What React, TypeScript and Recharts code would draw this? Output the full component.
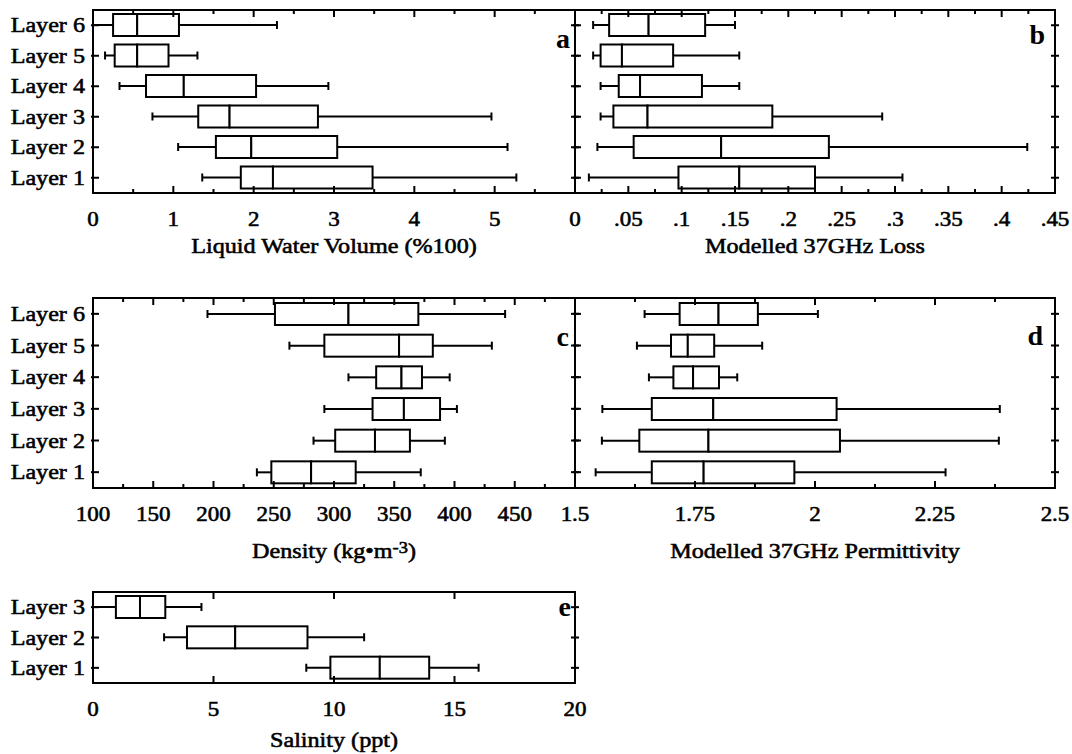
import React from 'react';
import { ComposedChart, Bar, XAxis, YAxis } from 'recharts';

const FONT = '"Liberation Serif", "Times New Roman", Times, serif';
const SX = 1.15;

// Categories, top to bottom
const layers6 = ['Layer 6', 'Layer 5', 'Layer 4', 'Layer 3', 'Layer 2', 'Layer 1'];
const layers3 = ['Layer 3', 'Layer 2', 'Layer 1'];

// (a) Liquid Water Volume (%100)
const lwvMin = [0.0, 0.15, 0.33, 0.74, 1.06, 1.36];
const lwvQ1 = [0.25, 0.27, 0.66, 1.31, 1.53, 1.84];
const lwvMed = [0.55, 0.55, 1.13, 1.7, 1.97, 2.24];
const lwvQ3 = [1.07, 0.94, 2.03, 2.8, 3.04, 3.48];
const lwvMax = [2.29, 1.3, 2.93, 4.96, 5.16, 5.27];

// (b) Modelled 37GHz Loss
const lossMin = [0.017, 0.017, 0.024, 0.024, 0.021, 0.013];
const lossQ1 = [0.032, 0.024, 0.041, 0.036, 0.055, 0.097];
const lossMed = [0.069, 0.044, 0.061, 0.068, 0.137, 0.154];
const lossQ3 = [0.122, 0.092, 0.119, 0.185, 0.238, 0.225];
const lossMax = [0.15, 0.154, 0.154, 0.288, 0.424, 0.307];

// (c) Density
const denMin = [195, 263, 312, 292, 283, 236];
const denQ1 = [251, 292, 335, 332, 301, 248];
const denMed = [312, 354, 356, 358, 334, 281];
const denQ3 = [370, 382, 373, 388, 363, 318];
const denMax = [442, 431, 396, 402, 392, 372];

// (d) Modelled 37GHz Permittivity
const perMin = [1.645, 1.629, 1.654, 1.557, 1.556, 1.543];
const perQ1 = [1.718, 1.7, 1.705, 1.66, 1.634, 1.66];
const perMed = [1.799, 1.735, 1.746, 1.788, 1.778, 1.768];
const perQ3 = [1.881, 1.79, 1.8, 2.045, 2.052, 1.957];
const perMax = [2.006, 1.89, 1.838, 2.385, 2.383, 2.272];

// (e) Salinity
const salMin = [0.0, 2.95, 8.85];
const salQ1 = [0.95, 3.9, 9.85];
const salMed = [1.95, 5.9, 11.9];
const salQ3 = [3.0, 8.9, 13.95];
const salMax = [4.5, 11.25, 16.0];

// Ticks and tick labels ('' = minor tick)
const lwvTicks = [0, 0.5, 1, 1.5, 2, 2.5, 3, 3.5, 4, 4.5, 5, 5.5, 6];
const lwvLabels = ['0', '', '1', '', '2', '', '3', '', '4', '', '5', '', ''];
const lossTicks = [0, 0.025, 0.05, 0.075, 0.1, 0.125, 0.15, 0.175, 0.2, 0.225, 0.25, 0.275, 0.3, 0.325, 0.35, 0.375, 0.4, 0.425, 0.45];
const lossLabels = ['0', '', '.05', '', '.1', '', '.15', '', '.2', '', '.25', '', '.3', '', '.35', '', '.4', '', '.45'];
const denTicks = [100, 125, 150, 175, 200, 225, 250, 275, 300, 325, 350, 375, 400, 425, 450, 475, 500];
const denLabels = ['100', '', '150', '', '200', '', '250', '', '300', '', '350', '', '400', '', '450', '', ''];
const perTicks = [1.5, 1.625, 1.75, 1.875, 2, 2.125, 2.25, 2.375, 2.5];
const perLabels = ['1.5', '', '1.75', '', '2', '', '2.25', '', '2.5'];
const salTicks = [0, 5, 10, 15, 20];
const salLabels = ['0', '5', '10', '15', '20'];

function buildRows(cats: string[], mn: number[], q1: number[], md: number[], q3: number[], mx: number[]) {
  return cats.map((layer, i) => ({
    layer,
    base: mn[i],
    w1: q1[i] - mn[i],
    b1: md[i] - q1[i],
    b2: q3[i] - md[i],
    w2: mx[i] - q3[i],
  }));
}

const lwvRows = buildRows(layers6, lwvMin, lwvQ1, lwvMed, lwvQ3, lwvMax);
const lossRows = buildRows(layers6, lossMin, lossQ1, lossMed, lossQ3, lossMax);
const denRows = buildRows(layers6, denMin, denQ1, denMed, denQ3, denMax);
const perRows = buildRows(layers6, perMin, perQ1, perMed, perQ3, perMax);
const salRows = buildRows(layers3, salMin, salQ1, salMed, salQ3, salMax);

function SText(props: any) {
  const { x, y, anchor = 'middle', size = 20, weight = 'normal', children } = props;
  return (
    <text
      transform={`translate(${x},${y}) scale(${SX},1)`}
      textAnchor={anchor}
      fontFamily={FONT}
      fontSize={size}
      fontWeight={weight}
      fill="#000"
      stroke="#000"
      strokeWidth={0.55}
    >
      {children}
    </text>
  );
}

const LW = 2;

const Empty = () => <g />;
const WhiskerLow = (p: any) => {
  const { x, y, width, height } = p;
  const cy = y + height / 2;
  return (
    <g>
      <line x1={x} y1={cy} x2={x + width} y2={cy} stroke="#000" strokeWidth={LW} />
      <line x1={x} y1={cy - 4} x2={x} y2={cy + 4} stroke="#000" strokeWidth={LW} />
    </g>
  );
};
const WhiskerHigh = (p: any) => {
  const { x, y, width, height } = p;
  const cy = y + height / 2;
  return (
    <g>
      <line x1={x} y1={cy} x2={x + width} y2={cy} stroke="#000" strokeWidth={LW} />
      <line x1={x + width} y1={cy - 4} x2={x + width} y2={cy + 4} stroke="#000" strokeWidth={LW} />
    </g>
  );
};
const BoxPart = (p: any) => (
  <rect x={p.x} y={p.y} width={p.width} height={p.height} fill="#fff" stroke="#000" strokeWidth={LW} />
);

const AXIS = { stroke: '#000', strokeWidth: LW, strokeLinecap: 'square' };

const bottomTick = (labels: string[]) => (p: any) => {
  const lab = labels[p.index] ?? '';
  const len = lab ? 7 : 4;
  return (
    <g key={`b${p.index}`}>
      <line x1={p.x} x2={p.x} y1={p.y} y2={p.y - len} stroke="#000" strokeWidth={LW} />
      {lab ? <SText x={p.x} y={p.y + 33} size={20}>{lab}</SText> : null}
    </g>
  );
};
const topTick = (labels: string[]) => (p: any) => {
  const lab = labels[p.index] ?? '';
  const len = lab ? 7 : 4;
  return (
    <g key={`t${p.index}`}>
      <line x1={p.x} x2={p.x} y1={p.y} y2={p.y + len} stroke="#000" strokeWidth={LW} />
    </g>
  );
};
const leftTick = (show: boolean) => (p: any) => (
  <g key={`l${p.index}`}>
    <line x1={p.x - 2} x2={p.x + 6} y1={p.y} y2={p.y} stroke="#000" strokeWidth={LW} />
    {show ? (
      <SText x={p.x - 8} y={p.y + 7} anchor="end" size={21}>
        {p.payload.value}
      </SText>
    ) : null}
  </g>
);
const rightTick = (p: any) => (
  <g key={`r${p.index}`}>
    <line x1={p.x - 4} x2={p.x + 4} y1={p.y} y2={p.y} stroke="#000" strokeWidth={LW} />
  </g>
);

type PanelProps = {
  rows: any[];
  domain: [number, number];
  ticks: number[];
  labels: string[];
  plotLeft: number;
  plotTop: number;
  plotW: number;
  plotH: number;
  leftW: number;
  rightW: number;
  showLayers: boolean;
  letter: string;
  letterDx: number;
  letterDy: number;
  title: React.ReactNode;
  titleDy: number;
  bottomH: number;
};

function Panel(p: PanelProps) {
  const leftW = p.leftW;
  const rightW = p.rightW;
  const topH = 10;
  const width = leftW + p.plotW + rightW;
  const height = topH + p.plotH + p.bottomH;
  const titleLabel = (lp: any) => {
    const vb = lp.viewBox;
    return (
      <SText x={vb.x + vb.width / 2} y={vb.y + p.titleDy} size={21}>
        {p.title}
      </SText>
    );
  };
  const letterLabel = (lp: any) => {
    const vb = lp.viewBox;
    return (
      <text
        x={vb.x + vb.width - p.letterDx}
        y={vb.y + vb.height + p.letterDy}
        textAnchor="end"
        fontFamily={FONT}
        fontSize={28}
        fontWeight="bold"
        fill="#000"
      >
        {p.letter}
      </text>
    );
  };
  return (
    <div style={{ position: 'absolute', left: p.plotLeft - leftW, top: p.plotTop - topH }}>
      <ComposedChart
        layout="vertical"
        width={width}
        height={height}
        data={p.rows}
        barSize={22}
        margin={{ top: 0, right: 0, bottom: 0, left: 0 }}
      >
        <XAxis
          xAxisId="x"
          type="number"
          orientation="bottom"
          domain={p.domain}
          ticks={p.ticks}
          allowDataOverflow
          interval={0}
          tickSize={0}
          tickMargin={0}
          height={p.bottomH}
          axisLine={AXIS}
          tickLine={false}
          tick={bottomTick(p.labels)}
          label={titleLabel}
        />
        <XAxis
          xAxisId="xt"
          type="number"
          orientation="top"
          domain={p.domain}
          ticks={p.ticks}
          allowDataOverflow
          interval={0}
          tickSize={0}
          tickMargin={0}
          height={topH}
          axisLine={AXIS}
          tickLine={false}
          tick={topTick(p.labels)}
          label={letterLabel}
        />
        <YAxis
          yAxisId="y"
          type="category"
          dataKey="layer"
          orientation="left"
          width={leftW}
          interval={0}
          tickSize={0}
          tickMargin={0}
          axisLine={AXIS}
          tickLine={false}
          tick={leftTick(p.showLayers)}
        />
        <YAxis
          yAxisId="yr"
          type="category"
          dataKey="layer"
          orientation="right"
          width={rightW}
          interval={0}
          tickSize={0}
          tickMargin={0}
          axisLine={AXIS}
          tickLine={false}
          tick={rightTick}
        />
        <Bar xAxisId="x" yAxisId="y" dataKey="base" stackId="s" shape={Empty} isAnimationActive={false} />
        <Bar xAxisId="x" yAxisId="y" dataKey="w1" stackId="s" shape={WhiskerLow} isAnimationActive={false} />
        <Bar xAxisId="x" yAxisId="y" dataKey="b1" stackId="s" shape={BoxPart} isAnimationActive={false} />
        <Bar xAxisId="x" yAxisId="y" dataKey="b2" stackId="s" shape={BoxPart} isAnimationActive={false} />
        <Bar xAxisId="x" yAxisId="y" dataKey="w2" stackId="s" shape={WhiskerHigh} isAnimationActive={false} />
      </ComposedChart>
    </div>
  );
}

const densityTitle = (
  <>
    Density (kg•m
    <tspan dy={-5} fontSize={16}>-3</tspan>
    <tspan dy={5}>)</tspan>
  </>
);

export default function App() {
  return (
    <div style={{ position: 'absolute', left: 0, top: 0, width: 1072, height: 754, background: '#fff', overflow: 'hidden' }}>
      <Panel
        rows={lwvRows} domain={[0, 6]} ticks={lwvTicks} labels={lwvLabels}
        plotLeft={93} plotTop={10} plotW={482} plotH={183} leftW={93} rightW={8} showLayers
        letter="a" letterDx={5} letterDy={38}
        title="Liquid Water Volume (%100)" titleDy={60} bottomH={72}
      />
      <Panel
        rows={lossRows} domain={[0, 0.45]} ticks={lossTicks} labels={lossLabels}
        plotLeft={575} plotTop={10} plotW={480} plotH={183} leftW={40} rightW={16} showLayers={false}
        letter="b" letterDx={10} letterDy={34}
        title="Modelled 37GHz Loss" titleDy={60} bottomH={72}
      />
      <Panel
        rows={denRows} domain={[100, 500]} ticks={denTicks} labels={denLabels}
        plotLeft={93} plotTop={298} plotW={482} plotH={190} leftW={93} rightW={8} showLayers
        letter="c" letterDx={6} letterDy={48}
        title={densityTitle} titleDy={70} bottomH={80}
      />
      <Panel
        rows={perRows} domain={[1.5, 2.5]} ticks={perTicks} labels={perLabels}
        plotLeft={575} plotTop={298} plotW={480} plotH={190} leftW={40} rightW={16} showLayers={false}
        letter="d" letterDx={12} letterDy={47}
        title="Modelled 37GHz Permittivity" titleDy={70} bottomH={80}
      />
      <Panel
        rows={salRows} domain={[0, 20]} ticks={salTicks} labels={salLabels}
        plotLeft={93} plotTop={592} plotW={482} plotH={91} leftW={93} rightW={24} showLayers
        letter="e" letterDx={4} letterDy={24}
        title="Salinity (ppt)" titleDy={64} bottomH={70}
      />
    </div>
  );
}
